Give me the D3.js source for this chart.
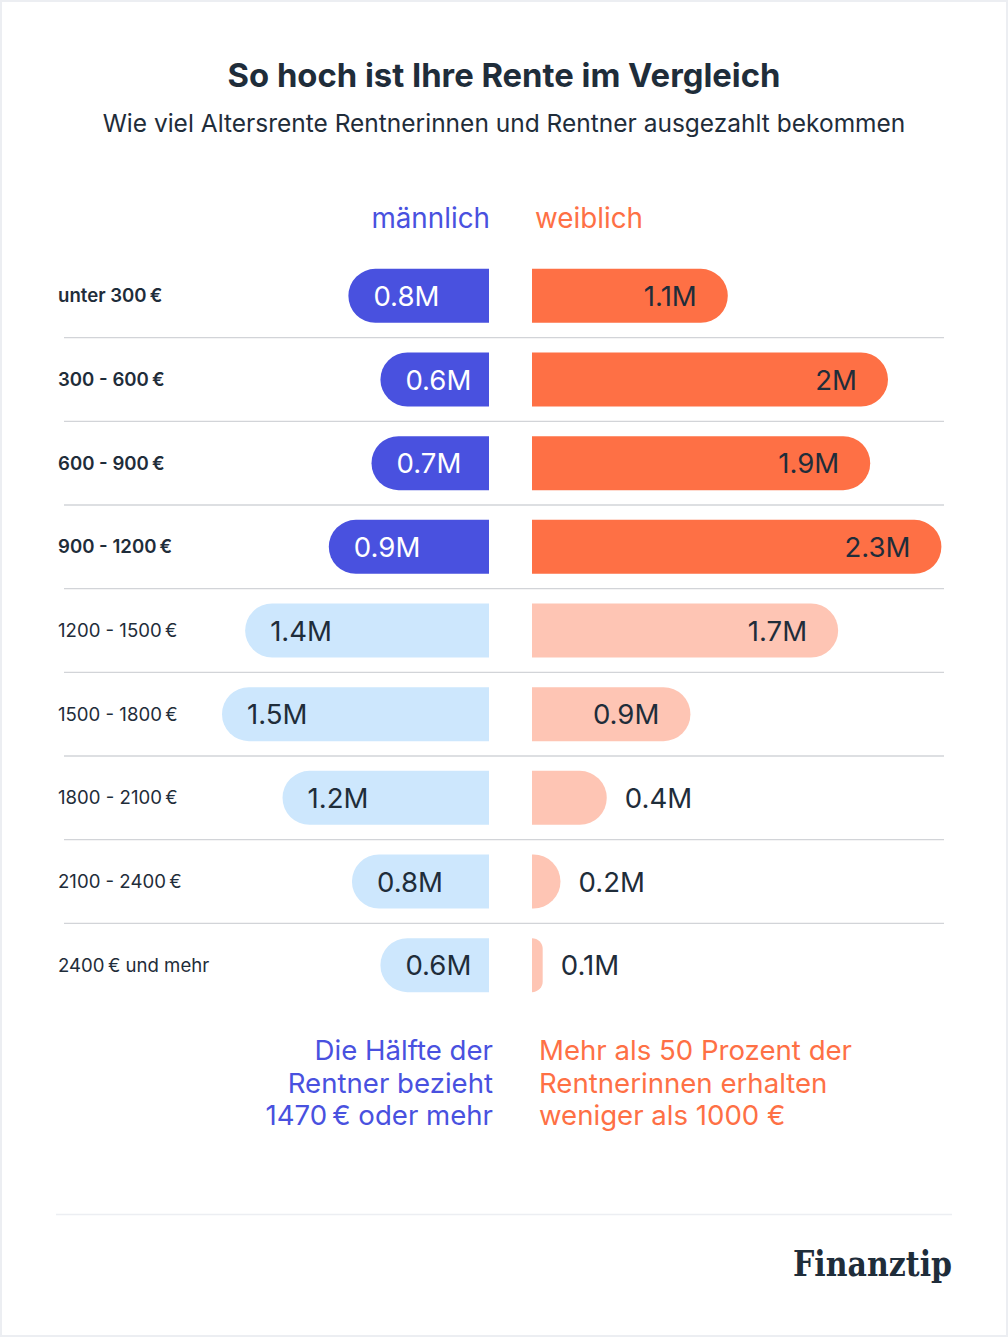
<!DOCTYPE html>
<html><head><meta charset="utf-8">
<script src="https://cdn.jsdelivr.net/npm/d3@7/dist/d3.min.js"></script>
<style>
html,body{margin:0;padding:0;background:#fff;}
svg{display:block;}
.sans{font-family:Inter,"Noto Sans",sans-serif;}
.logo{font-family:"DejaVu Serif","Liberation Serif",serif;font-weight:700;}
</style></head>
<body>
<svg id="chart" width="1008" height="1337"></svg>
<script>
const categories = ["unter 300\u202F€","300 - 600\u202F€","600 - 900\u202F€","900 - 1200\u202F€","1200 - 1500\u202F€","1500 - 1800\u202F€","1800 - 2100\u202F€","2100 - 2400\u202F€","2400\u202F€ und mehr"];
const maleValues   = [0.79, 0.61, 0.66, 0.90, 1.37, 1.50, 1.16, 0.77, 0.61];
const femaleValues = [1.10, 2.00, 1.90, 2.30, 1.72, 0.89, 0.42, 0.16, 0.06];
const highlighted  = [true, true, true, true, false, false, false, false, false];
const maleNote   = ["Die Hälfte der", "Rentner bezieht", "1470\u202F€ oder mehr"];
const femaleNote = ["Mehr als 50 Prozent der", "Rentnerinnen erhalten", "weniger als 1000 €"];

const C = {
  blue:"#4951DF", blueLight:"#CDE7FD", orange:"#FE7045", orangeLight:"#FEC5B4",
  text:"#1F2D3A", grid:"#D2D4D8", border:"#ECEEF2"
};

const svg = d3.select("#chart");
const W = 1008, H = 1337;

svg.append("rect").attr("x",1).attr("y",1).attr("width",W-2).attr("height",H-2)
  .attr("fill","#fff").attr("stroke",C.border).attr("stroke-width",2);

svg.append("text").attr("class","sans").attr("x",504).attr("y",87).attr("text-anchor","middle")
  .attr("font-size",32.8).attr("font-weight",700).attr("fill",C.text)
  .text("So hoch ist Ihre Rente im Vergleich");
svg.append("text").attr("class","sans").attr("x",504).attr("y",132).attr("text-anchor","middle")
  .attr("font-size",24.5).attr("font-weight",400).attr("fill",C.text)
  .text("Wie viel Altersrente Rentnerinnen und Rentner ausgezahlt bekommen");

const maleEdge = 489, femaleEdge = 532;
const y = d3.scaleBand().domain(categories).range([254, 1007]).paddingInner(0.355).paddingOuter(0.1775);
const w = d3.scaleLinear().domain([0, 1]).range([0, 178]);
const fmt = v => (+v.toFixed(1)) + "M";

// legend
svg.append("text").attr("class","sans").attr("x",490).attr("y",228).attr("text-anchor","end")
  .attr("font-size",27.8).attr("fill",C.blue).text("männlich");
svg.append("text").attr("class","sans").attr("x",535).attr("y",228).attr("text-anchor","start")
  .attr("font-size",27.8).attr("fill",C.orange).text("weiblich");

// separators
const step = y.step();
svg.append("g").selectAll("line").data(categories.slice(1)).join("line")
  .attr("x1",64).attr("x2",944)
  .attr("y1",d=>y(d)-step*y.paddingInner()/2).attr("y2",d=>y(d)-step*y.paddingInner()/2)
  .attr("stroke",C.grid).attr("stroke-width",1.3);

function rightRounded(x0, x1, y0, y1){
  const wd = x1-x0, r = Math.min((y1-y0)/2, wd);
  return `M${x0},${y0}H${x1-r}A${r},${r} 0 0 1 ${x1},${y0+r}V${y1-r}A${r},${r} 0 0 1 ${x1-r},${y1}H${x0}Z`;
}
function leftRounded(x0, x1, y0, y1){
  const wd = x1-x0, r = Math.min((y1-y0)/2, wd);
  return `M${x1},${y0}H${x0+r}A${r},${r} 0 0 0 ${x0},${y0+r}V${y1-r}A${r},${r} 0 0 0 ${x0+r},${y1}H${x1}Z`;
}

const rows = categories.map((c,i)=>({c, m:maleValues[i], f:femaleValues[i], hi:highlighted[i]}));
const bh = y.bandwidth();

// category labels
svg.append("g").selectAll("text").data(rows).join("text").attr("class","sans")
  .attr("x",58).attr("y",d=>y(d.c)+bh/2+6.5)
  .attr("font-size",18.6).attr("font-weight",d=>d.hi?600:400).attr("fill",C.text)
  .text(d=>d.c);

// male bars
svg.append("g").selectAll("path").data(rows).join("path")
  .attr("d",d=>leftRounded(maleEdge-w(d.m), maleEdge, y(d.c), y(d.c)+bh))
  .attr("fill",d=>d.hi?C.blue:C.blueLight);
svg.append("g").selectAll("text").data(rows).join("text").attr("class","sans")
  .attr("x",d=>maleEdge-w(d.m)+25).attr("y",d=>y(d.c)+bh/2+10)
  .attr("font-size",27.6).attr("fill",d=>d.hi?"#fff":C.text)
  .text(d=>fmt(d.m));

// female bars
svg.append("g").selectAll("path").data(rows).join("path")
  .attr("d",d=>rightRounded(femaleEdge, femaleEdge+w(d.f), y(d.c), y(d.c)+bh))
  .attr("fill",d=>d.hi?C.orange:C.orangeLight);
svg.append("g").selectAll("text").data(rows).join("text").attr("class","sans")
  .attr("x",d=> w(d.f) < 100 ? femaleEdge+w(d.f)+18 : femaleEdge+w(d.f)-31)
  .attr("text-anchor",d=> w(d.f) < 100 ? "start" : "end")
  .attr("y",d=>y(d.c)+bh/2+10)
  .attr("font-size",27.6).attr("fill",C.text)
  .text(d=>fmt(d.f));

// notes
svg.append("g").selectAll("text").data(maleNote).join("text").attr("class","sans")
  .attr("x",493).attr("y",(d,i)=>1060+i*32.5).attr("text-anchor","end")
  .attr("font-size",27.6).attr("fill",C.blue).text(d=>d);
svg.append("g").selectAll("text").data(femaleNote).join("text").attr("class","sans")
  .attr("x",539).attr("y",(d,i)=>1060+i*32.5).attr("text-anchor","start")
  .attr("font-size",27.6).attr("fill",C.orange).text(d=>d);

// footer
svg.append("line").attr("x1",56).attr("x2",952).attr("y1",1214.5).attr("y2",1214.5)
  .attr("stroke","#ECEEF2").attr("stroke-width",1.5);
svg.append("text").attr("class","logo").attr("x",793).attr("y",1276)
  .attr("font-size",36).attr("fill",C.text)
  .attr("textLength",159).attr("lengthAdjust","spacingAndGlyphs").text("Finanztip");
</script>
</body></html>
